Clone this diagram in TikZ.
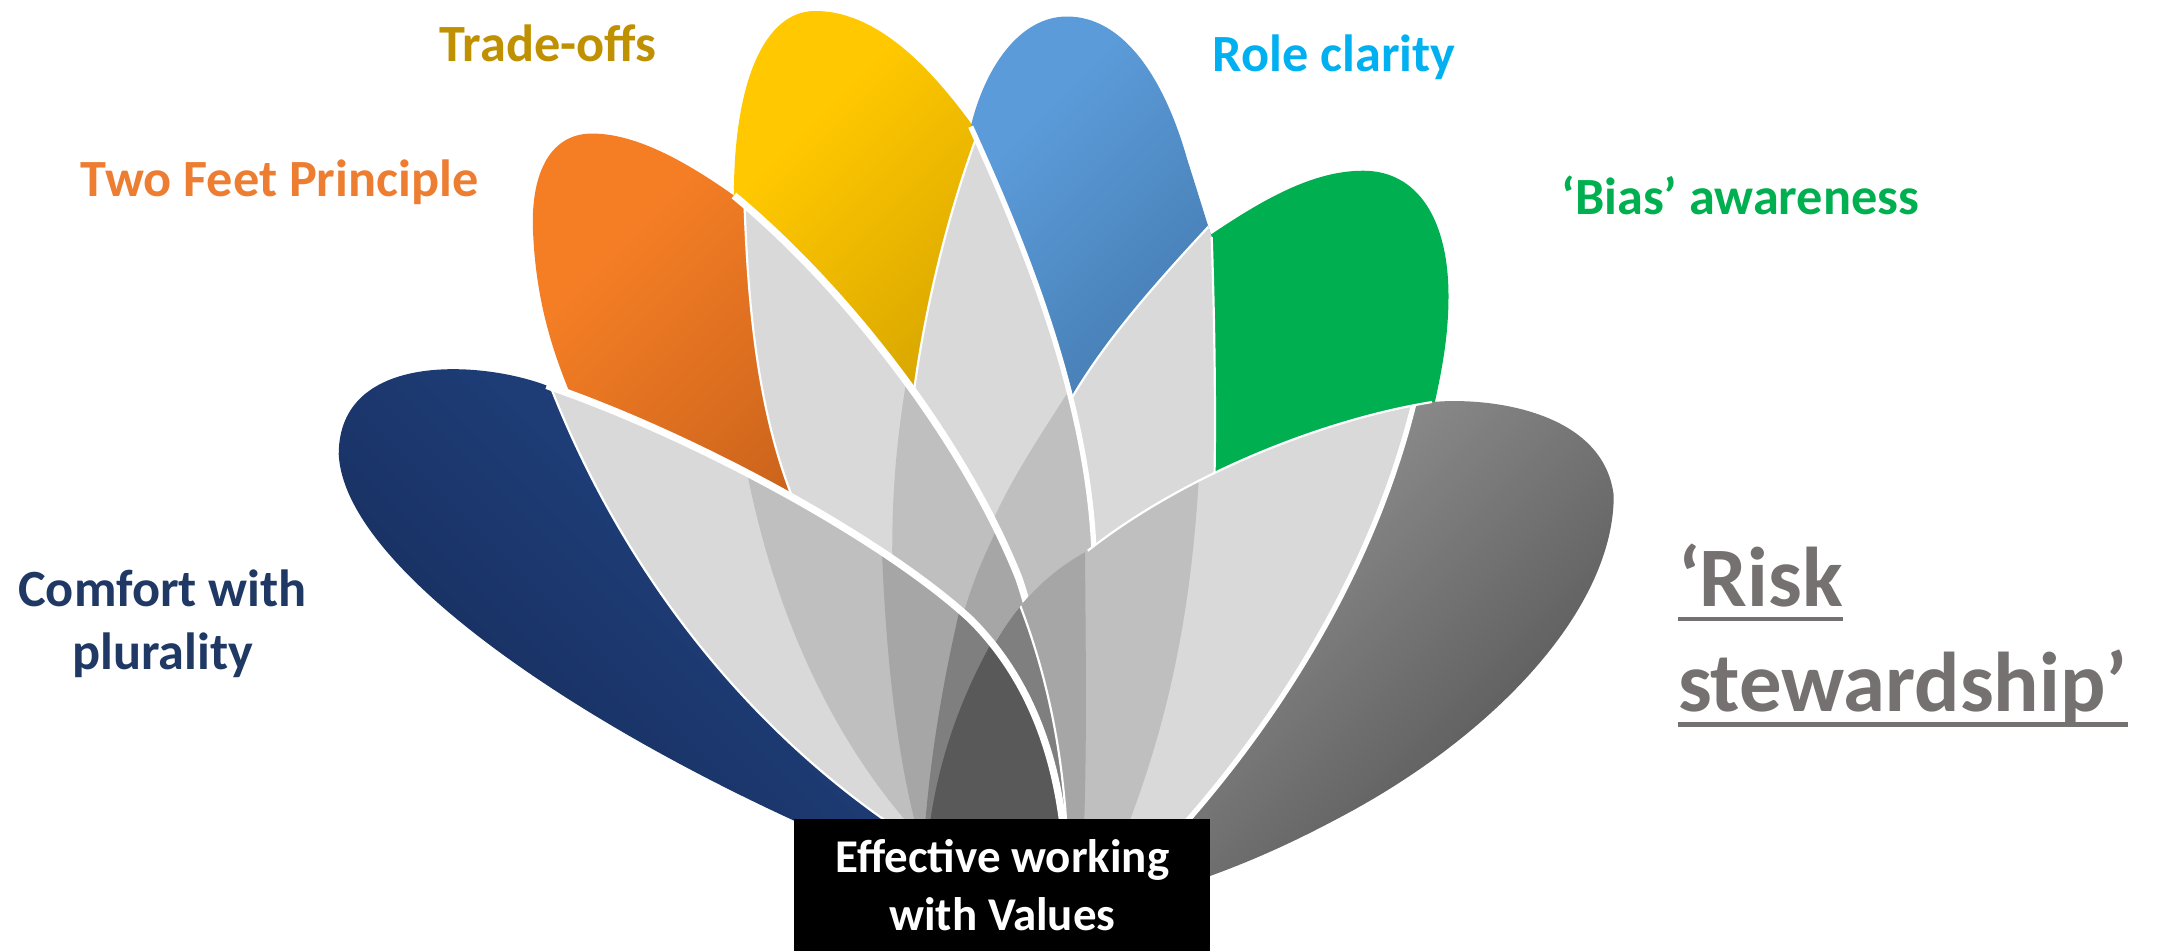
\documentclass[tikz,border=0pt]{standalone}
\usepackage{fontspec}
\setmainfont{Carlito}
\definecolor{gD9}{HTML}{D9D9D9}
\definecolor{gBF}{HTML}{BFBFBF}
\definecolor{gA6}{HTML}{A6A6A6}
\definecolor{g7F}{HTML}{7F7F7F}
\definecolor{g59}{HTML}{595959}
\definecolor{navyD}{HTML}{162C5A}
\definecolor{navyL}{HTML}{24498C}
\definecolor{orangeL}{HTML}{F57E25}
\definecolor{orangeD}{HTML}{9A4511}
\definecolor{yellowL}{HTML}{FFC800}
\definecolor{yellowD}{HTML}{A47A00}
\definecolor{blueL}{HTML}{5B9BD9}
\definecolor{blueD}{HTML}{2E5A86}
\definecolor{greenC}{HTML}{00B050}
\definecolor{riskL}{HTML}{A9A9A9}
\definecolor{riskD}{HTML}{545454}
\definecolor{tTrade}{HTML}{BF9000}
\definecolor{tTwo}{HTML}{ED7D31}
\definecolor{tRole}{HTML}{00B0F0}
\definecolor{tBias}{HTML}{00B050}
\definecolor{tComfort}{HTML}{1F3864}
\definecolor{tRisk}{HTML}{767171}
\newcommand{\myul}[1]{\leavevmode\setbox0\hbox{#1}\rlap{\raisebox{-3.1pt}{\rule{\wd0}{0.9pt}}}\box0}
\begin{document}
\begin{tikzpicture}[x=0.01cm,y=-0.01cm,
  lbl/.style={font=\fontsize{10.8}{13}\selectfont\bfseries, inner sep=0pt},
  wthick/.style={white, line width=1.5pt},
  wmid/.style={white, line width=1.1pt},
  wthin/.style={white, line width=0.45pt}]
\useasboundingbox (0,0) rectangle (1568,691.4);
% ---------- family 3 (yellow) ----------
\def\Pthree{(533,142) .. controls (533,60) and (555,8) .. (592,8) .. controls (640,8) and (680,55) .. (707,92) .. controls (760,170) and (805,300) .. (805,420) .. controls (805,520) and (790,600) .. (772,650) .. controls (650,500) and (540,300) .. (533,142) -- cycle}
\begin{scope}
\clip \Pthree;
\shade[left color=yellowL, right color=yellowD, shading angle=45] \Pthree;
\fill[gD9] (712,60) -- (712,92) .. controls (690,150) and (672,220) .. (663,290) .. controls (655,360) and (650,450) .. (660,560) -- (660,700) -- (950,700) -- (950,60) -- cycle;
\draw[wthin] (712,92) .. controls (690,150) and (672,220) .. (663,290);
\fill[gBF] (785,200) -- (785,270) .. controls (760,310) and (735,345) .. (718,385) .. controls (705,420) and (695,470) .. (690,560) -- (690,700) -- (950,700) -- (950,200) -- cycle;
\end{scope}
% ---------- family 5 (green) ----------
\def\Pfive{(872,200) -- (872,172) -- (880,170) .. controls (920,143) and (955,124) .. (990,124) .. controls (1030,124) and (1052,160) .. (1052,215) .. controls (1052,245) and (1047,270) .. (1041,297) .. controls (1010,420) and (900,560) .. (772,650) .. controls (840,550) and (872,400) .. (872,200) -- cycle}
\fill[greenC] \Pfive;
% ---------- family 4 (blue) ----------
\def\Pfour{(705,92) .. controls (715,50) and (740,12) .. (775,12) .. controls (815,12) and (845,55) .. (862,115) .. controls (870,140) and (876,160) .. (880,172) .. controls (882,230) and (883,300) .. (882,348) .. controls (880,450) and (840,580) .. (772,650) .. controls (790,600) and (796,520) .. (795,420) .. controls (795,300) and (745,180) .. (705,92) -- cycle}
\begin{scope}
\clip \Pfour;
\shade[left color=blueL, right color=blueD, shading angle=45] \Pfour;
\fill[gD9] (950,160) -- (882,160) .. controls (840,205) and (800,250) .. (775,295) -- (740,360) -- (740,700) -- (950,700) -- cycle;
\draw[wthin] (882,160) .. controls (840,205) and (800,250) .. (775,295);
\end{scope}
\draw[wmid] (705,92) .. controls (745,180) and (795,300) .. (795,420) .. controls (796,520) and (790,600) .. (772,650);
\draw[wthin] (880,172) .. controls (882,230) and (883,300) .. (882,348) .. controls (880,450) and (840,580) .. (772,650);
% ---------- family 2 (orange) ----------
\def\Ptwo{(533,142) .. controls (495,115) and (460,97) .. (430,97) .. controls (400,97) and (386,125) .. (387,165) .. controls (389,225) and (405,265) .. (420,300) .. controls (470,400) and (650,520) .. (772,650) .. controls (772,560) and (760,480) .. (740,420) .. controls (700,320) and (615,210) .. (533,142) -- cycle}
\begin{scope}
\clip \Ptwo;
\shade[left color=orangeL, right color=orangeD, shading angle=45] \Ptwo;
\fill[gD9] (540,60) -- (540,120) .. controls (542,230) and (552,300) .. (575,360) -- (640,470) -- (640,700) -- (950,700) -- (950,60) -- cycle;
\draw[wthin] (540,120) .. controls (542,230) and (552,300) .. (575,360);
\fill[gBF] (662,200) -- (662,255) .. controls (652,310) and (648,350) .. (648,400) -- (650,700) -- (950,700) -- (950,200) -- cycle;
\fill[gA6] (740,200) -- (740,350) .. controls (722,390) and (710,410) .. (700,445) -- (690,700) -- (950,700) -- (950,200) -- cycle;
\end{scope}
\draw[wthick] (533,142) .. controls (615,210) and (700,320) .. (740,420) .. controls (760,480) and (772,560) .. (772,650);
% ---------- family 6 (risk grey) ----------
\def\Psix{(1040,292) .. controls (1085,288) and (1165,300) .. (1172,360) .. controls (1172,440) and (1090,530) .. (980,590) .. controls (930,617) and (880,640) .. (800,660) -- (672,660) .. controls (690,490) and (735,430) .. (790,400) .. controls (860,345) and (960,305) .. (1040,292) -- cycle}
\begin{scope}
\clip \Psix;
\shade[left color=riskL, right color=riskD, shading angle=45] \Psix;
\fill[gD9] (1032,200) -- (1032,270) .. controls (1010,380) and (950,500) .. (850,610) -- (800,700) -- (600,700) -- (600,200) -- cycle;
\draw[wmid] (1032,270) .. controls (1010,380) and (950,500) .. (850,610) -- (800,700);
\fill[gBF] (872,200) -- (872,320) .. controls (868,420) and (855,510) .. (815,610) -- (790,700) -- (600,700) -- (600,200) -- cycle;
\fill[gA6] (788,200) -- (788,380) .. controls (788,450) and (790,530) .. (787,610) -- (780,700) -- (600,700) -- (600,200) -- cycle;
\fill[g7F] (735,200) -- (735,425) .. controls (758,480) and (772,540) .. (775,610) -- (775,700) -- (600,700) -- (600,200) -- cycle;
\draw[wthin] (735,425) .. controls (758,480) and (772,540) .. (775,610);
\end{scope}
\draw[wthin] (1040,292) .. controls (960,305) and (860,345) .. (790,400);
% ---------- family 1 (navy) ----------
\def\Pone{(397,280) .. controls (350,262) and (246,255) .. (246,330) .. controls (250,410) and (410,520) .. (581,598) .. controls (640,630) and (720,655) .. (775,660) -- (775,650) .. controls (775,560) and (750,495) .. (705,450) .. controls (640,390) and (500,315) .. (397,280) -- cycle}
\begin{scope}
\clip \Pone;
\shade[left color=navyL, right color=navyD, shading angle=-45] \Pone;
\fill[gD9] (395,200) -- (395,268) .. controls (440,390) and (530,530) .. (680,620) -- (760,700) -- (950,700) -- (950,200) -- cycle;
\draw[wthin] (395,268) .. controls (440,390) and (530,530) .. (680,620);
\fill[gBF] (540,200) -- (540,330) .. controls (560,440) and (605,550) .. (690,630) -- (760,700) -- (950,700) -- (950,200) -- cycle;
\fill[gA6] (640,200) -- (640,385) .. controls (642,450) and (648,540) .. (668,610) -- (690,700) -- (950,700) -- (950,200) -- cycle;
\fill[g7F] (700,200) -- (700,430) .. controls (688,480) and (676,540) .. (671,610) -- (671,700) -- (950,700) -- (950,200) -- cycle;
\fill[g59] (730,200) -- (730,450) .. controls (702,495) and (680,550) .. (674,610) -- (674,700) -- (950,700) -- (950,200) -- cycle;
\end{scope}
\draw[wthick] (397,280) .. controls (500,315) and (640,390) .. (705,450) .. controls (750,495) and (775,560) .. (775,650);
% ---------- labels ----------
\node[lbl, text=tTrade, anchor=base] (tradeoffs) at (398,45) {Trade-offs};
\node[lbl, text=tTwo, anchor=base] (twofeet) at (203,143) {Two Feet Principle};
\node[lbl, text=tRole, anchor=base] (role) at (969,52) {Role clarity};
\node[lbl, text=tBias, anchor=base] (bias) at (1264,156) {‘Bias’ awareness};
\node[lbl, text=tComfort, align=center, anchor=north] (comfort) at (118,413) {Comfort with\\plurality};
\node[text=tRisk, font=\fontsize{17.5}{21.8}\selectfont\bfseries, align=left, anchor=north west, inner sep=0pt] (risk) at (1218,394) {\myul{‘Risk}\\\myul{stewardship’}};
\node[fill=black, text=white, font=\fontsize{9.7}{11.9}\selectfont\bfseries, align=center, anchor=north, minimum width=3.02cm, inner xsep=0pt, inner ysep=0.15cm] (box) at (728,594) {Effective working\\with Values};
\end{tikzpicture}
\end{document}
